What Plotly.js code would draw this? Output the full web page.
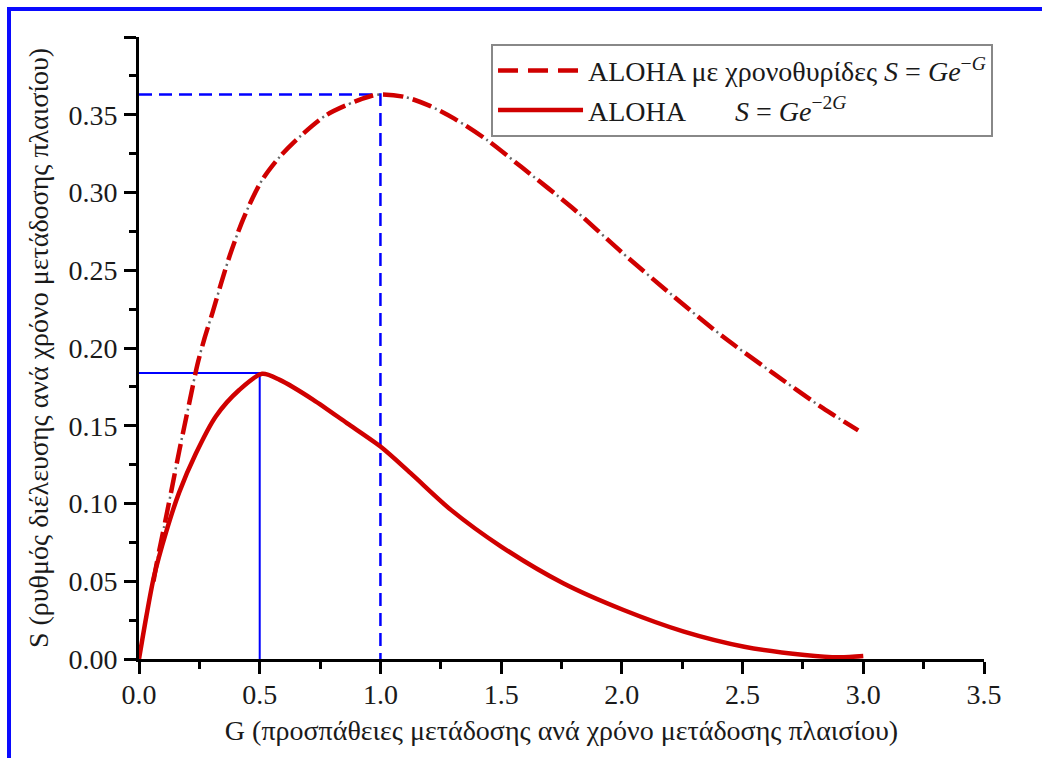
<!DOCTYPE html>
<html>
<head>
<meta charset="utf-8">
<script src="https://cdn.plot.ly/plotly-3.0.1.min.js"></script>
<style>
  html, body { margin: 0; padding: 0; background: #fff; }
  #wrap { position: relative; width: 1042px; height: 758px; overflow: hidden; }
  #chart { position: absolute; left: 0; top: 0; width: 1042px; height: 758px; }
  #frame { position: absolute; left: 7px; top: 7px; width: 1100px; height: 800px;
           border-top: 4px solid #0a0aff; border-left: 4px solid #0a0aff; pointer-events: none; }
</style>
</head>
<body>
<div id="wrap">
  <div id="chart"></div>
  <div id="frame"></div>
</div>
<script>
// Slotted ALOHA  S = G e^-G
const gSlotted = [0.06, 0.076, 0.104, 0.132, 0.167, 0.208, 0.243, 0.271, 0.306, 0.340, 0.375, 0.424, 0.472, 0.514, 0.583, 0.674, 0.778, 0.896, 0.958, 1.0, 1.1, 1.2, 1.306, 1.444, 1.583, 1.792, 2.0, 2.208, 2.417, 2.625, 2.833, 2.979];
const sSlotted = [0.050, 0.0637, 0.085, 0.1066, 0.134, 0.1645, 0.190, 0.206, 0.2235, 0.2415, 0.259, 0.280, 0.297, 0.309, 0.323, 0.337, 0.350, 0.3586, 0.3619, 0.363, 0.3615, 0.3560, 0.3475, 0.3335, 0.3165, 0.2905, 0.2615, 0.2340, 0.2075, 0.1840, 0.1613, 0.147];

// Pure ALOHA  S = G e^-2G
const gPure = [0, 0.03, 0.062, 0.111, 0.166, 0.235, 0.318, 0.415, 0.51, 0.583, 0.722, 0.861, 1.0, 1.125, 1.292, 1.5, 1.757, 2.007, 2.257, 2.507, 2.757, 2.9, 3.0];
const sPure = [0, 0.027, 0.053, 0.081, 0.107, 0.132, 0.156, 0.173, 0.1834, 0.1795, 0.1667, 0.1517, 0.1366, 0.1195, 0.0959, 0.0723, 0.0487, 0.0315, 0.0176, 0.0079, 0.0026, 0.0011, 0.0019];

// Maxima marked by blue guide lines
const peakSlottedG = 1.0, peakSlottedS = 0.363;
const peakPureG = 0.5, peakPureS = 0.184;

// Axis ticks
const xTickVals = [0, 0.5, 1.0, 1.5, 2.0, 2.5, 3.0, 3.5];
const xTickText = ['0.0', '0.5', '1.0', '1.5', '2.0', '2.5', '3.0', '3.5'];
const yTickVals = [0, 0.05, 0.10, 0.15, 0.20, 0.25, 0.30, 0.35, 0.40];
const yTickText = ['0.00', '0.05', '0.10', '0.15', '0.20', '0.25', '0.30', '0.35', ''];

const FONT = 'Liberation Serif, Times New Roman, serif';
const RED = '#d00000';
const BLUE = '#0000ff';
const TXT = '#1a1a1a';

const traces = [
  { x: [0, peakSlottedG, peakSlottedG], y: [peakSlottedS, peakSlottedS, 0], mode: 'lines',
    line: { color: BLUE, width: 2.5, dash: '13px,7px' }, showlegend: false, hoverinfo: 'skip' },
  { x: [0, peakPureG, peakPureG], y: [peakPureS, peakPureS, 0], mode: 'lines',
    line: { color: BLUE, width: 2 }, showlegend: false, hoverinfo: 'skip' },
  { x: gSlotted, y: sSlotted, mode: 'lines',
    name: 'ALOHA με χρονοθυρίδες <i>S</i> = <i>Ge</i><sup>−<i>G</i></sup>',
    line: { color: RED, width: 4.5, dash: '20px,10px', shape: 'spline', smoothing: 0.8 } },
  { x: gSlotted, y: sSlotted, mode: 'lines', showlegend: false, hoverinfo: 'skip',
    line: { color: '#666666', width: 2.5, dash: '0px,24px,2px,4px', shape: 'spline', smoothing: 0.8 } },
  { x: gPure, y: sPure, mode: 'lines',
    name: 'ALOHA\u00A0\u00A0\u00A0\u00A0\u00A0\u00A0\u00A0<i>S</i> = <i>Ge</i><sup>−2<i>G</i></sup>',
    line: { color: RED, width: 4.5, shape: 'spline', smoothing: 0.8 } }
];

const axisCommon = {
  showgrid: false, zeroline: false, showline: true, linecolor: '#000', linewidth: 3,
  ticks: 'outside', ticklen: 12, tickwidth: 3, tickcolor: '#000',
  tickfont: { family: FONT, size: 28, color: TXT },
  tickmode: 'array',
  minor: { ticks: 'outside', ticklen: 7, tickwidth: 3, tickcolor: '#000', showgrid: false }
};

const layout = {
  width: 1042, height: 758,
  margin: { l: 139, r: 58, t: 37, b: 99 },
  paper_bgcolor: '#ffffff', plot_bgcolor: '#ffffff',
  font: { family: FONT, color: TXT },
  showlegend: true,
  legend: {
    x: 0.4166, y: 0.989, xanchor: 'left', yanchor: 'top',
    bgcolor: '#ffffff', bordercolor: '#888888', borderwidth: 2,
    font: { family: FONT, size: 28, color: TXT },
    itemwidth: 85, traceorder: 'normal'
  },
  xaxis: Object.assign({}, axisCommon, {
    range: [0, 3.5], tickvals: xTickVals, ticktext: xTickText,
    ticklabelstandoff: -4,
    minor: Object.assign({}, axisCommon.minor, { dtick: 0.25, tick0: 0 }),
    title: { text: 'G (προσπάθειες μετάδοσης ανά χρόνο μετάδοσης πλαισίου)',
             font: { family: FONT, size: 28, color: TXT }, standoff: 12 }
  }),
  yaxis: Object.assign({}, axisCommon, {
    range: [0, 0.4], tickvals: yTickVals, ticktext: yTickText,
    ticklabelstandoff: 1,
    minor: Object.assign({}, axisCommon.minor, { dtick: 0.025, tick0: 0 }),
    title: { text: 'S (ρυθμός διέλευσης ανά χρόνο μετάδοσης πλαισίου)',
             font: { family: FONT, size: 28, color: TXT }, standoff: 12 }
  })
};

Plotly.newPlot('chart', traces, layout, { staticPlot: true, displayModeBar: false });
</script>
</body>
</html>
